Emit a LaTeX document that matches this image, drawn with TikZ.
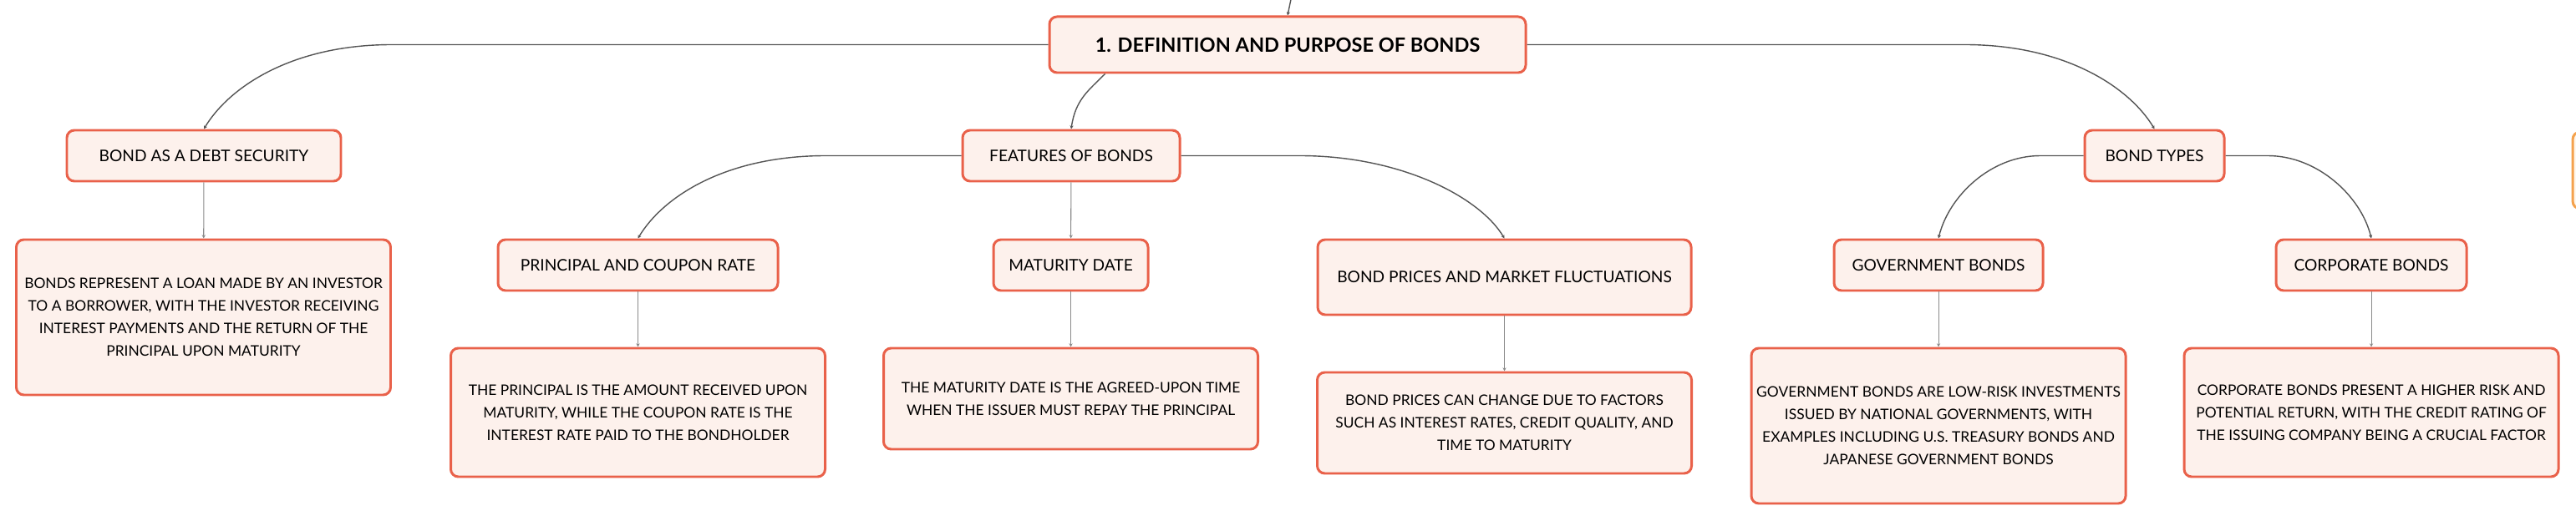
\documentclass[tikz,border=0pt]{standalone}
\usepackage{fontspec}
\setmainfont{Lato}
\usepackage{tikz}
\usetikzlibrary{positioning}
\usetikzlibrary{arrows.meta}
\definecolor{coral}{HTML}{E9614A}
\definecolor{blush}{HTML}{FDF1EC}
\definecolor{amber}{HTML}{F4A24E}
\definecolor{cream}{HTML}{FFF8EE}
\definecolor{wire}{HTML}{555555}
\definecolor{stemgray}{HTML}{8A8A8A}
\tikzset {
  % rounded topic box
  topic/.style = {draw=coral, fill=blush, line width=0.85pt, rounded corners=0.09cm,
    align=center, inner sep=0pt, minimum height=0.61cm, font=\fontsize{5.45}{7.7}\selectfont},
  % the section title
  headline/.style = {topic, minimum height=0.67cm, font=\bfseries\fontsize{6.7}{7.7}\selectfont},
  % long explanation boxes
  detail/.style = {topic, minimum width=4.48cm, font=\fontsize{4.95}{7.68}\selectfont},
  % next section, cut off at the edge
  other/.style = {topic, draw=amber, fill=cream},
  % curved links from a parent
  link/.style = {draw=wire, line width=0.4pt, -{Stealth[length=1.2pt,width=1.2pt]}},
  % straight links down to the explanation
  stem/.style = {draw=stemgray, line width=0.3pt, -{Stealth[length=1.2pt,width=1.2pt]}},
}

\begin{document}
\begin{tikzpicture}

        \useasboundingbox (0,0) rectangle (30.83,-6.24);
        \clip (0,0) rectangle (30.83,-6.24);

        \coordinate (up) at (15.50, 0.25);
        \node[headline, minimum width=5.70cm] (root) at (15.41, -0.535) {1. DEFINITION AND PURPOSE OF BONDS};

        \node[topic, minimum width=3.28cm] (debt) at (2.44, -1.865) {BOND AS A DEBT SECURITY};
        \node[topic, minimum width=2.60cm] (feat) at (12.82, -1.865) {FEATURES OF BONDS};
        \node[topic, minimum width=1.67cm] (types) at (25.785, -1.865) {BOND TYPES};

        \node[topic, minimum width=3.35cm] (princ) at (7.635, -3.175) {PRINCIPAL AND COUPON RATE};
        \node[topic, minimum width=1.85cm] (mat) at (12.815, -3.175) {MATURITY DATE};
        \node[topic, minimum width=4.47cm, minimum height=0.90cm] (price) at (18.005, -3.32) {BOND PRICES AND MARKET FLUCTUATIONS};
        \node[topic, minimum width=2.50cm] (gov) at (23.20, -3.175) {GOVERNMENT BONDS};
        \node[topic, minimum width=2.28cm] (corp) at (28.38, -3.175) {CORPORATE BONDS};

        \node[detail, minimum height=1.86cm] (debtD) at (2.435, -3.80) {BONDS REPRESENT A LOAN MADE BY AN INVESTOR\\TO A BORROWER, WITH THE INVESTOR RECEIVING\\INTEREST PAYMENTS AND THE RETURN OF THE\\PRINCIPAL UPON MATURITY};
        \node[detail, minimum height=1.54cm] (princD) at (7.635, -4.94) {THE PRINCIPAL IS THE AMOUNT RECEIVED UPON\\MATURITY, WHILE THE COUPON RATE IS THE\\INTEREST RATE PAID TO THE BONDHOLDER};
        \node[detail, minimum height=1.21cm] (matD) at (12.815, -4.775) {THE MATURITY DATE IS THE AGREED-UPON TIME\\WHEN THE ISSUER MUST REPAY THE PRINCIPAL};
        \node[detail, minimum height=1.21cm] (priceD) at (18.005, -5.065) {BOND PRICES CAN CHANGE DUE TO FACTORS\\SUCH AS INTEREST RATES, CREDIT QUALITY, AND\\TIME TO MATURITY};
        \node[detail, minimum height=1.86cm] (govD) at (23.20, -5.10) {GOVERNMENT BONDS ARE LOW-RISK INVESTMENTS\\ISSUED BY NATIONAL GOVERNMENTS, WITH\\EXAMPLES INCLUDING U.S. TREASURY BONDS AND\\JAPANESE GOVERNMENT BONDS};
        \node[detail, minimum height=1.54cm] (corpD) at (28.38, -4.94) {CORPORATE BONDS PRESENT A HIGHER RISK AND\\POTENTIAL RETURN, WITH THE CREDIT RATING OF\\THE ISSUING COMPANY BEING A CRUCIAL FACTOR};

        \node[other, minimum width=1.6cm, minimum height=0.92cm] (next) at (31.59, -2.04) {};

        \draw [link] (up) -- (root.north);

        \draw [link] (root.west) -- ([xshift=2.25cm]debt.north |- root.west) .. controls +(-1.2,0) and +(0.3,0.5) .. (debt.north);
        \draw [link] ([xshift=0.68cm]root.south west) .. controls +(-0.2,-0.2) and +(0.05,0.35) .. (feat.north);
        \draw [link] (root.east) -- ([xshift=-2.27cm]types.north |- root.east) .. controls +(1.2,0) and +(-0.3,0.5) .. (types.north);

        \draw [link] (feat.west) -- ([xshift=2.25cm]princ.north |- feat.west) .. controls +(-1.2,0) and +(0.3,0.5) .. (princ.north);
        \draw [link] (feat.east) -- ([xshift=-2.45cm]price.north |- feat.east) .. controls +(1.2,0) and +(-0.3,0.5) .. (price.north);
        \draw [link] (types.west) -- ([xshift=1.22cm]gov.north |- types.west) .. controls +(-0.6,0) and +(0.12,0.5) .. (gov.north);
        \draw [link] (types.east) -- ([xshift=-1.24cm]corp.north |- types.east) .. controls +(0.6,0) and +(-0.12,0.5) .. (corp.north);

        \draw [stem] (feat) -- (mat);
        \draw [stem] (debt) -- (debtD);
        \draw [stem] (princ) -- (princD);
        \draw [stem] (mat) -- (matD);
        \draw [stem] (price) -- (priceD);
        \draw [stem] (gov) -- (govD);
        \draw [stem] (corp) -- (corpD);

      \end{tikzpicture}
\end{document}
